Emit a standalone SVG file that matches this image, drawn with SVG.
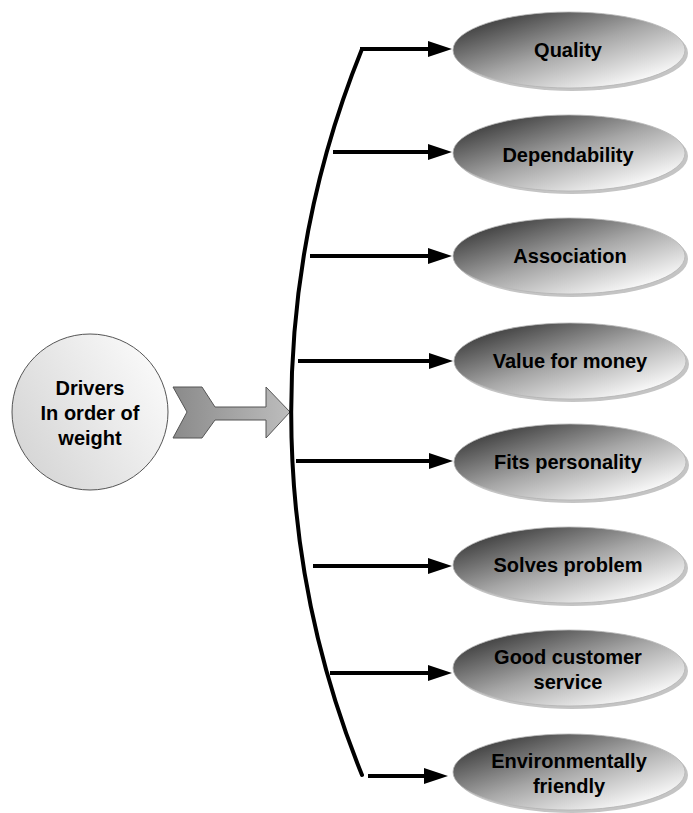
<svg xmlns="http://www.w3.org/2000/svg" width="693" height="813" viewBox="0 0 693 813">
<defs>
<linearGradient id="eg" x1="0.08" y1="0.12" x2="0.85" y2="0.92">
<stop offset="0" stop-color="#3a3a3a"/>
<stop offset="0.5" stop-color="#a6a6a6"/>
<stop offset="1" stop-color="#ffffff"/>
</linearGradient>
<linearGradient id="cg" x1="0" y1="0.8" x2="1" y2="0.2">
<stop offset="0" stop-color="#d4d4d4"/>
<stop offset="1" stop-color="#fbfbfb"/>
</linearGradient>
<linearGradient id="ag" x1="0" y1="0" x2="1" y2="0">
<stop offset="0" stop-color="#8a8a8a"/>
<stop offset="1" stop-color="#bdbdbd"/>
</linearGradient>
<marker id="ah" markerUnits="userSpaceOnUse" markerWidth="24" markerHeight="16" refX="8" refY="8" orient="auto">
<path d="M0,0 L24,8 L0,16 z" fill="#000"/>
</marker>
</defs>
<style>
.sh{fill:#c4c4c4}
.el{fill:url(#eg);stroke:#b4b4b4;stroke-width:0.8}
.t{font-family:"Liberation Sans",Arial,sans-serif;font-weight:bold;font-size:20px;text-anchor:middle;fill:#000}
.ln{fill:none;stroke:#000;stroke-width:4}
</style>
<g id="drivers">
<circle cx="90" cy="412" r="78" fill="url(#cg)" stroke="#555" stroke-width="1"/>
<text class="t" x="90" y="395">Drivers</text>
<text class="t" x="90" y="420">In order of</text>
<text class="t" x="90" y="445">weight</text>
</g>
<g id="block-arrow">
<polygon points="173,387 202,387 215,407 266,407 266,387 290,412 266,438 266,420 215,420 202,438 173,438 187,412" fill="url(#ag)" stroke="#555" stroke-width="1"/>
</g>
<g id="connectors">
<path class="ln" d="M362,49 A966,966 0 0 0 362,775" stroke-linecap="round"/>
<path class="ln" d="M360,49 H436" marker-end="url(#ah)"/>
<path class="ln" d="M333,152 H436" marker-end="url(#ah)"/>
<path class="ln" d="M310,256 H436" marker-end="url(#ah)"/>
<path class="ln" d="M298,361 H437" marker-end="url(#ah)"/>
<path class="ln" d="M296,461 H437" marker-end="url(#ah)"/>
<path class="ln" d="M313,566 H436" marker-end="url(#ah)"/>
<path class="ln" d="M330,673 H436" marker-end="url(#ah)"/>
<path class="ln" d="M368,776 H432" marker-end="url(#ah)"/>
</g>
<g id="quality">
<ellipse class="sh" cx="572" cy="53" rx="116" ry="38"/>
<ellipse class="el" cx="569" cy="50" rx="116" ry="38"/>
<text class="t" x="568" y="57">Quality</text>
</g>
<g id="dependability">
<ellipse class="sh" cx="572" cy="156" rx="116" ry="38"/>
<ellipse class="el" cx="569" cy="153" rx="116" ry="38"/>
<text class="t" x="568" y="162">Dependability</text>
</g>
<g id="association">
<ellipse class="sh" cx="572" cy="259" rx="116" ry="38"/>
<ellipse class="el" cx="569" cy="256" rx="116" ry="38"/>
<text class="t" x="570" y="263">Association</text>
</g>
<g id="value">
<ellipse class="sh" cx="573" cy="364" rx="116" ry="38"/>
<ellipse class="el" cx="570" cy="361" rx="116" ry="38"/>
<text class="t" x="570" y="368">Value for money</text>
</g>
<g id="fits">
<ellipse class="sh" cx="573" cy="465" rx="116" ry="38"/>
<ellipse class="el" cx="570" cy="462" rx="116" ry="38"/>
<text class="t" x="568" y="469">Fits personality</text>
</g>
<g id="solves">
<ellipse class="sh" cx="572" cy="568" rx="116" ry="38"/>
<ellipse class="el" cx="569" cy="565" rx="116" ry="38"/>
<text class="t" x="568" y="572">Solves problem</text>
</g>
<g id="good-service">
<ellipse class="sh" cx="572" cy="671" rx="116" ry="38"/>
<ellipse class="el" cx="569" cy="668" rx="116" ry="38"/>
<text class="t" x="568" y="664">Good customer</text>
<text class="t" x="568" y="689">service</text>
</g>
<g id="environment">
<ellipse class="sh" cx="572" cy="775" rx="116" ry="38"/>
<ellipse class="el" cx="569" cy="772" rx="116" ry="38"/>
<text class="t" x="569" y="768">Environmentally</text>
<text class="t" x="569" y="793">friendly</text>
</g>
</svg>
